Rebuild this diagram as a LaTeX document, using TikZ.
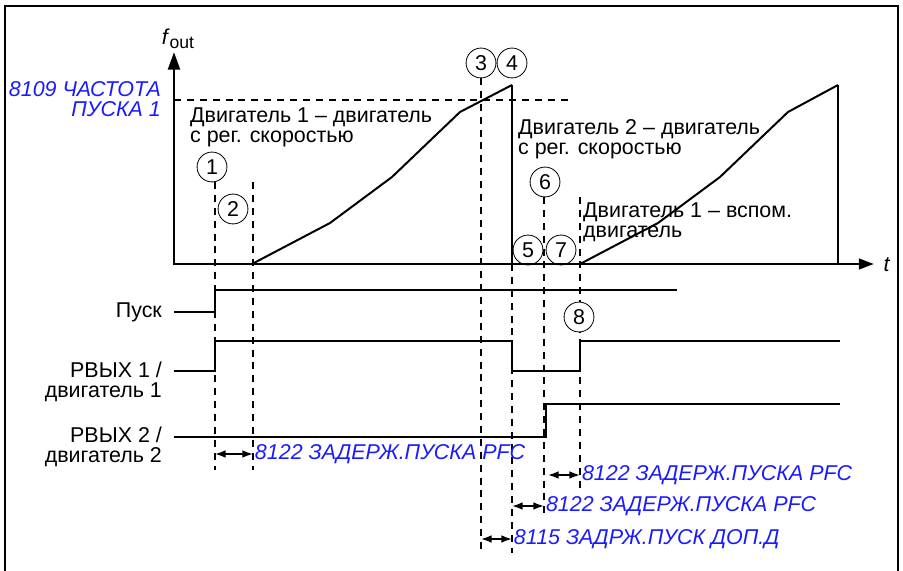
\documentclass[tikz,border=0pt]{standalone}
\usepackage{fontspec}
\setmainfont{Liberation Sans}
\usetikzlibrary{arrows.meta}
\definecolor{pfcblue}{HTML}{1A1AFF}
\begin{document}
\begin{tikzpicture}[
  x=0.03cm,y=-0.03cm,
  font=\fontsize{18.3}{17}\selectfont,
  axis/.style={line width=2.5pt},
  sig/.style={line width=2.5pt,line join=miter},
  ramp/.style={line width=1.7pt,line join=round},
  guide/.style={line width=1.7pt,dash pattern=on 6pt off 5pt},
  num/.style={circle,draw,line width=.7pt,fill=white,minimum size=25.5pt,inner sep=0pt},
  par/.style={text=pfcblue,font=\fontsize{18.3}{17}\selectfont\itshape},
  delay/.style={{Latex[length=9pt,width=6.5pt]}-{Latex[length=9pt,width=6.5pt]},line width=1.4pt}
]
  \path[use as bounding box] (0,0) rectangle (903,571);
  \draw[line width=1.2pt] (5,571) -- (5,6) -- (898,6) -- (898,571);
  % event lines
  \draw[guide] (174,100) -- (572,100);
  \foreach \x/\ya/\yb in {215/182/470,253/182/470,481/78/553,512/264/553,
                          544/197/515,580/197/490}{
    \draw[guide] (\x,\ya) -- (\x,\yb);
  }
  \foreach \n/\x/\y in {1/212/167,2/233/209,3/481/63,4/512/63,
                        5/528/250,6/545/182,7/561/250,8/579/317}{
    \node[num] (c\n) at (\x,\y) {\n};
  }
  % frequency axes
  \draw[axis,-{Triangle[length=15pt,width=10pt]}] (174,265) -- (174,52);
  \draw[axis,-{Triangle[length=13pt,width=9pt]}] (173,264) -- (874,264);
  \node (fout) at (178,39)
    {\textit{f}\raisebox{-.4ex}{\fontsize{15}{15}\selectfont out}};
  \node (tlab) at (887,265) {\textit{t}};
  \node[par,anchor=east,align=right] (freq) at (165,99) {8109 ЧАСТОТА\\ПУСКА 1};
  % ramps
  \draw[ramp] (252,264) -- (330,223) -- (392,177) -- (460,112) -- (512,85);
  \draw[ramp] (580,264) -- (658,223) -- (720,177) -- (788,112) -- (838,85);
  \draw[sig] (512,85) -- (512,264);
  \draw[sig] (838,85) -- (838,264);
  \node[anchor=west,align=left] (mot1) at (186,127)
    {Двигатель 1 – двигатель\\с рег. скоростью};
  \node[anchor=west,align=left] (mot2) at (514,139)
    {Двигатель 2 – двигатель\\с рег. скоростью};
  \node[anchor=west,align=left] (aux1) at (579,222)
    {Двигатель 1 – вспом.\\двигатель};
  % relay signals
  \draw[sig] (174,312) -- (215,312) -- (215,290) -- (677,290);
  \draw[sig] (174,371) -- (215,371) -- (215,341) -- (512,341) -- (512,371)
    -- (580,371) -- (580,341) -- (840,341);
  \draw[sig] (174,437) -- (546,437) -- (546,404) -- (840,404);
  \node[anchor=east] (start) at (166,312) {Пуск};
  \node[anchor=east,align=right] (rel1) at (166,382) {РВЫХ 1 /\\двигатель 1};
  \node[anchor=east,align=right] (rel2) at (166,447) {РВЫХ 2 /\\двигатель 2};
  % delays
  \draw[delay] (215,454) -- (253,454)
    node[par,anchor=west,inner sep=1pt] (dly1) {8122 ЗАДЕРЖ.ПУСКА PFC};
  \draw[delay] (548,475) -- (580,475)
    node[par,anchor=west,inner sep=1pt] (dly2) {8122 ЗАДЕРЖ.ПУСКА PFC};
  \draw[delay] (512,506) -- (544,506)
    node[par,anchor=west,inner sep=1pt] (dly3) {8122 ЗАДЕРЖ.ПУСКА PFC};
  \draw[delay] (481,539) -- (512,539)
    node[par,anchor=west,inner sep=1pt] (dly4) {8115 ЗАДРЖ.ПУСК ДОП.Д};
\end{tikzpicture}
\end{document}
